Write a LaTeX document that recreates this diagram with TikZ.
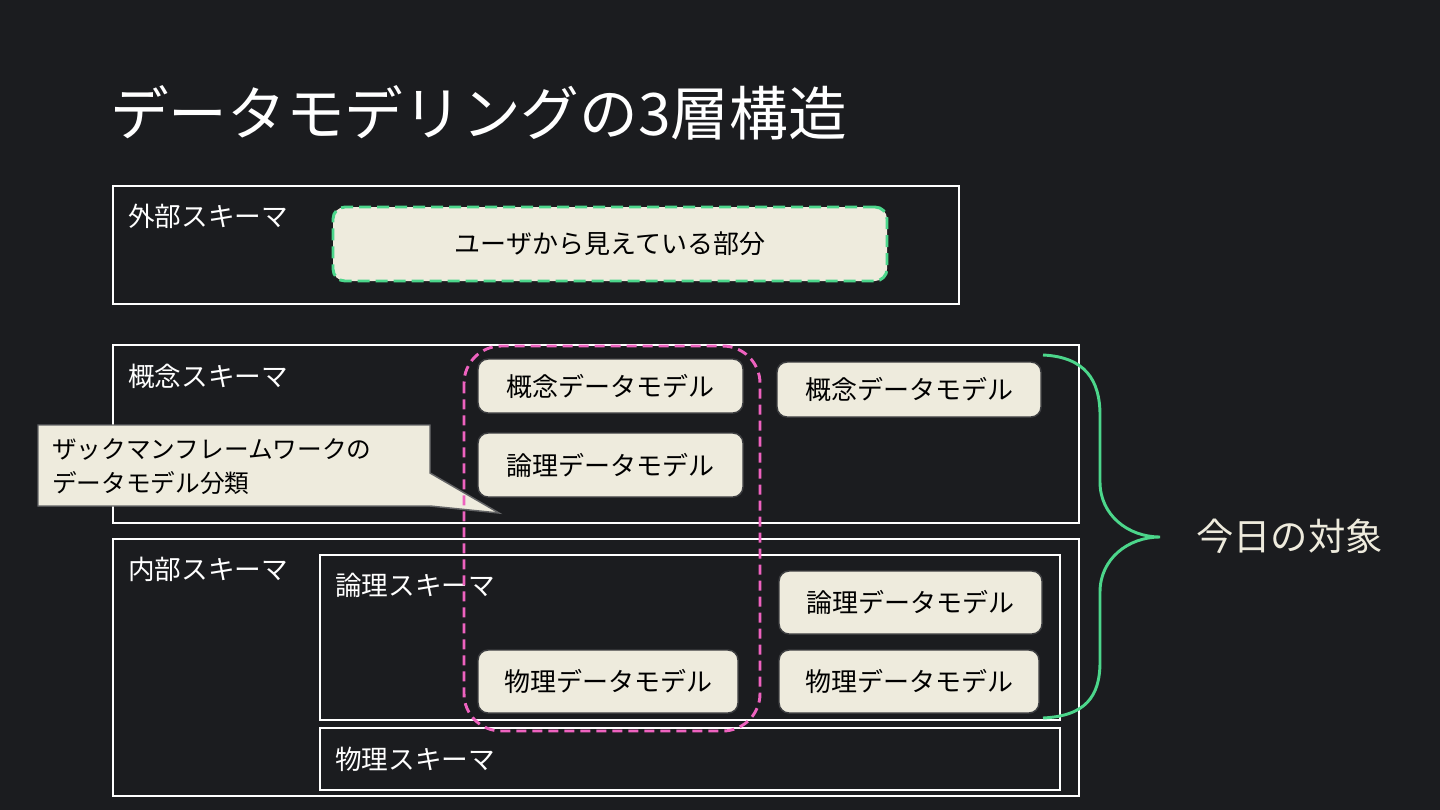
\documentclass[tikz,border=0pt]{standalone}
\usepackage{fontspec}
\setmainfont{Noto Sans CJK JP}
\usetikzlibrary{fit}
\definecolor{bgdark}{HTML}{1B1C1F}
\definecolor{cream}{HTML}{EEEBDD}
\definecolor{mintgreen}{HTML}{4CD68B}
\definecolor{hotpink}{HTML}{EE62BF}
\definecolor{boxedge}{HTML}{3C3D40}
\tikzset{
    schema/.style={draw=white, line width=1.1pt, inner sep=0pt},
    schemalabel/.style={anchor=west, inner sep=0pt, text=white, font=\fontsize{20}{24}\selectfont},
    model/.style={draw=boxedge, fill=cream, line width=1.1pt, rounded corners=7.5pt,
        inner sep=0pt, text=black, font=\fontsize{19.5}{23}\selectfont},
    userbox/.style={draw=mintgreen, fill=cream, line width=2.2pt, dash pattern=on 9pt off 4.5pt,
        rounded corners=9pt, inner sep=0pt, text=black, font=\fontsize{19.5}{23}\selectfont},
    zachman/.style={draw=hotpink, line width=2.2pt, dash pattern=on 7.5pt off 4.5pt, rounded corners=28pt},
    callout/.style={draw=boxedge!80!white, fill=cream, line width=1.1pt},
}
\begin{document}
\begin{tikzpicture}[x=0.75pt, y=-0.75pt]
    % background, 1440 x 810
    \fill[bgdark] (0,0) rectangle (1440,810);
    \useasboundingbox (0,0) rectangle (1440,810);

    \node[anchor=west, inner sep=0pt, text=white, font=\fontsize{44}{50}\selectfont] (title) at (110,113) {データモデリングの3層構造};

    % schema frames
    \node[schema, fit={(113,186) (959,304)}] (ext) {};
    \node[schema, fit={(113,345) (1079,523)}] (con) {};
    \node[schema, fit={(113,539) (1079,796)}] (int) {};
    \node[schema, fit={(320,555) (1060,720)}] (log) {};
    \node[schema, fit={(320,728) (1060,790)}] (phy) {};

    \node[schemalabel] (extlabel) at (128,216) {外部スキーマ};
    \node[schemalabel] (conlabel) at (128,376) {概念スキーマ};
    \node[schemalabel] (intlabel) at (128,569) {内部スキーマ};
    \node[schemalabel] (loglabel) at (335,585) {論理スキーマ};
    \node[schemalabel] (phylabel) at (335,759) {物理スキーマ};

    \node[userbox, fit={(333,207) (887,281)}] (user) {};
    \node[font=\fontsize{19.5}{23}\selectfont] at (user.center) {ユーザから見えている部分};

    % data models
    \node[model, fit={(478,359) (743,413)}] (zcon) {};
    \node[model, fit={(478,433) (743,497)}] (zlog) {};
    \node[model, fit={(478,650) (738,713)}] (zphy) {};
    \node[model, fit={(777,362) (1041,417)}] (mcon) {};
    \node[model, fit={(779,571) (1042,634)}] (mlog) {};
    \node[model, fit={(779,650) (1039,713)}] (mphy) {};
    \foreach \n/\t in {zcon/概念, zlog/論理, zphy/物理, mcon/概念, mlog/論理, mphy/物理}
        \node[font=\fontsize{19.5}{23}\selectfont] at (\n.center) {\t データモデル};

    % callout
    \draw[callout] (38,425) -- (430,425) -- (430,473) -- (499,513) -- (430,506) -- (38,506) -- cycle;
    \node[anchor=west, align=left, inner sep=0pt, font=\fontsize{18.5}{25.5}\selectfont] (note) at (52,467)
        {ザックマンフレームワークの\\データモデル分類};

    \draw[zachman] (464,346) rectangle (760,731);

    % brace
    \coordinate (btop) at (1043,355);
    \coordinate (btip) at (1160,537);
    \coordinate (bbot) at (1043,718);
    \draw[mintgreen, line width=2.2pt]
        (btop) .. controls (1085,357) and (1100,380) .. (1100,415) -- (1100,482)
        .. controls (1100,515) and (1128,537) .. (btip)
        .. controls (1128,537) and (1100,559) .. (1100,592) -- (1100,662)
        .. controls (1100,697) and (1085,716) .. (bbot);
    \node[anchor=west, inner sep=0pt, text=cream, font=\fontsize{28}{32}\selectfont] (today) at (1196,536) {今日の対象};
\end{tikzpicture}
\end{document}
